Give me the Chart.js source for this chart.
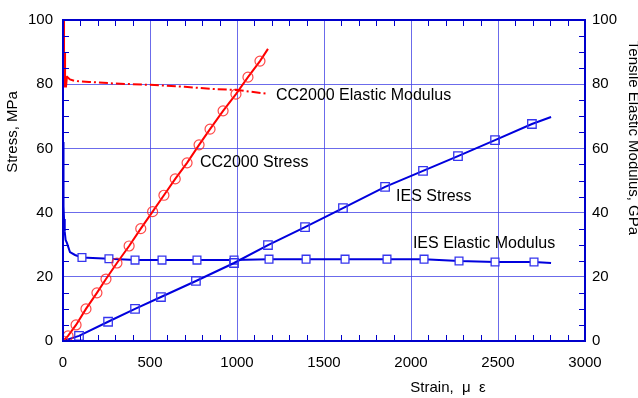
<!DOCTYPE html>
<html>
<head>
<meta charset="utf-8">
<script src="https://cdn.jsdelivr.net/npm/chart.js"></script>
<style>
  html, body { margin: 0; padding: 0; background: #fff; }
  canvas { display: block; }
</style>
</head>
<body>
<canvas id="stressChart" width="638" height="398"></canvas>
<script>
// CC2000 stress-strain (left axis, MPa)
const ccStrain = [0, 29, 75, 132, 195, 247, 310, 380, 447, 515, 580, 645, 713, 782, 845, 920, 994, 1063, 1132, 1178];
const ccStress = [0, 1.6, 5, 10, 15, 19.3, 24.3, 29.6, 35, 40.3, 45.4, 50.5, 55.5, 61.1, 66, 71.7, 76.9, 82.2, 87.2, 91];

// CC2000 elastic modulus (right axis, GPa)
const ccModStrain = [1, 2, 3, 4, 6, 8, 10, 14, 20, 40, 69, 150, 300, 500, 700, 862, 1000, 1178];
const ccModulus = [100, 94, 97, 86, 90, 80, 83, 79, 82.5, 81.5, 81, 80.7, 80.2, 79.8, 79.2, 78.5, 78.2, 77];

// IES stress-strain
const iesStrain = [0, 92, 259, 414, 563, 764, 983, 1178, 1391, 1609, 1851, 2069, 2270, 2483, 2695, 2805];
const iesStress = [0, 1.6, 6, 10, 13.7, 18.7, 24.3, 29.9, 35.5, 41.4, 48, 53, 57.6, 62.6, 67.6, 69.8];

// IES elastic modulus
const iesModStrain = [1, 2, 4, 6, 10, 15, 23, 40, 69, 109, 264, 414, 569, 770, 983, 1184, 1397, 1621, 1862, 2075, 2276, 2483, 2707, 2805];
const iesModulus = [62, 50, 42, 38, 34, 31.5, 30.5, 27.7, 26.8, 26, 25.6, 25.2, 25.2, 25.2, 25.2, 25.5, 25.5, 25.5, 25.5, 25.5, 24.9, 24.6, 24.6, 24.3];

const xTicks = [0, 500, 1000, 1500, 2000, 2500, 3000];
const yTicks = [0, 20, 40, 60, 80, 100];

const seriesLabels = ['CC2000 Elastic Modulus', 'CC2000 Stress', 'IES Stress', 'IES Elastic Modulus'];

function pts(xs, ys) {
    return xs.map((x, i) => ({ x: x, y: ys[i] }));
}

const RED = '#ff0000';
const BLUE = '#0000dd';
const AXIS = '#0000cc';
const GRID = 'rgba(70,70,230,0.8)';
const FONT = "'Liberation Sans', Arial, sans-serif";

// marker only on interior points
function markerRadius(first, r) {
    return c => (c.dataIndex >= first && c.dataIndex < c.dataset.data.length - 1) ? r : 0;
}

// frame, inward minor ticks, titles and curve labels
const decorations = {
    id: 'decorations',
    afterDatasetsDraw(chart) {
        const { ctx, chartArea: a, scales } = chart;
        const x = scales.x, y = scales.y;
        ctx.save();
        ctx.strokeStyle = AXIS;
        ctx.lineWidth = 1;
        ctx.beginPath();
        for (let v = 100; v < 3000; v += 100) {
            if (v % 500 === 0) continue;
            const px = Math.round(x.getPixelForValue(v)) + 0.5;
            ctx.moveTo(px, a.bottom); ctx.lineTo(px, a.bottom - 6);
            ctx.moveTo(px, a.top); ctx.lineTo(px, a.top + 6);
        }
        for (let v = 5; v < 100; v += 5) {
            if (v % 20 === 0) continue;
            const py = Math.round(y.getPixelForValue(v)) + 0.5;
            ctx.moveTo(a.left, py); ctx.lineTo(a.left + 6, py);
            ctx.moveTo(a.right, py); ctx.lineTo(a.right - 6, py);
        }
        ctx.stroke();

        ctx.lineWidth = 2;
        ctx.strokeRect(a.left, a.top, a.right - a.left, a.bottom - a.top);

        ctx.fillStyle = '#000';
        ctx.font = '16px ' + FONT;
        ctx.textBaseline = 'middle';
        ctx.textAlign = 'left';
        const notes = [[1224, 76.3], [787, 55.5], [1914, 44.9], [2011, 30.2]];
        notes.forEach((n, i) => {
            ctx.fillText(seriesLabels[i], x.getPixelForValue(n[0]), y.getPixelForValue(n[1]));
        });

        ctx.font = '15px ' + FONT;
        ctx.textAlign = 'center';
        ctx.fillText('Strain,  \u03bc  \u03b5', 448, 388);

        ctx.save();
        ctx.translate(13, 132);
        ctx.rotate(-Math.PI / 2);
        ctx.fillText('Stress, MPa', 0, 0);
        ctx.restore();

        ctx.save();
        ctx.translate(629, 138);
        ctx.rotate(Math.PI / 2);
        ctx.textBaseline = 'alphabetic';
        ctx.fillText('Tensile Elastic Modulus, GPa', 0, 0);
        ctx.restore();
        ctx.restore();
    }
};

const ctx = document.getElementById('stressChart').getContext('2d');

new Chart(ctx, {
    type: 'line',
    data: {
        datasets: [
            {
                data: pts(ccModStrain, ccModulus),
                yAxisID: 'y2',
                borderColor: RED,
                borderWidth: 2,
                pointRadius: 0,
                segment: {
                    borderWidth: c => c.p1DataIndex < 9 ? 3 : 2,
                    borderDash: c => c.p1DataIndex < 9 ? [] : [9, 3, 2, 3]
                }
            },
            {
                data: pts(ccStrain, ccStress),
                yAxisID: 'y',
                borderColor: RED,
                borderWidth: 2,
                pointStyle: 'circle',
                pointRadius: c => c.dataIndex < c.dataset.data.length - 1 ? 5 : 0,
                pointBorderColor: 'rgba(255,40,40,0.85)',
                pointBackgroundColor: 'rgba(0,0,0,0)',
                pointBorderWidth: 1.2
            },
            {
                data: pts(iesStrain, iesStress),
                yAxisID: 'y',
                borderColor: BLUE,
                borderWidth: 2,
                pointStyle: 'rect',
                pointRadius: markerRadius(1, 6),
                pointBorderColor: '#3535ee',
                pointBackgroundColor: 'rgba(0,0,0,0)',
                pointBorderWidth: 1.3
            },
            {
                data: pts(iesModStrain, iesModulus),
                yAxisID: 'y2',
                borderColor: BLUE,
                borderWidth: 2,
                pointStyle: 'rect',
                pointRadius: markerRadius(9, 5.5),
                pointBorderColor: '#3535ee',
                pointBackgroundColor: '#fff',
                pointBorderWidth: 1.3
            },
            {
                // centre dots of the modulus markers
                data: pts(iesModStrain, iesModulus),
                yAxisID: 'y2',
                showLine: false,
                pointStyle: 'rect',
                pointRadius: markerRadius(9, 1),
                pointBorderWidth: 0,
                pointBackgroundColor: '#0000aa'
            }
        ]
    },
    options: {
        responsive: false,
        animation: false,
        devicePixelRatio: 1,
        layout: { padding: { top: 20, left: 0, right: 0, bottom: 0 } },
        plugins: {
            legend: { display: false },
            tooltip: { enabled: false }
        },
        scales: {
            x: {
                type: 'linear',
                min: 0,
                max: 3000,
                afterFit: s => { s.height = 57; },
                afterBuildTicks: s => { s.ticks = xTicks.map(v => ({ value: v })); },
                grid: { color: GRID, lineWidth: 1, drawTicks: false },
                border: { display: false },
                ticks: {
                    padding: 13,
                    color: '#000',
                    maxRotation: 0,
                    callback: v => String(v),
                    font: { size: 15, family: FONT }
                }
            },
            y: {
                position: 'left',
                min: 0,
                max: 100,
                afterFit: s => { s.width = 63; },
                afterBuildTicks: s => { s.ticks = yTicks.map(v => ({ value: v })); },
                grid: { color: GRID, lineWidth: 1, drawTicks: false },
                border: { display: false },
                ticks: {
                    padding: 10,
                    color: '#000',
                    callback: v => String(v),
                    font: { size: 15, family: FONT }
                }
            },
            y2: {
                position: 'right',
                min: 0,
                max: 100,
                afterFit: s => { s.width = 53; },
                afterBuildTicks: s => { s.ticks = yTicks.map(v => ({ value: v })); },
                grid: { display: false, drawTicks: false },
                border: { display: false },
                ticks: {
                    padding: 7,
                    color: '#000',
                    callback: v => String(v),
                    font: { size: 15, family: FONT }
                }
            }
        }
    },
    plugins: [decorations]
});
</script>
</body>
</html>
